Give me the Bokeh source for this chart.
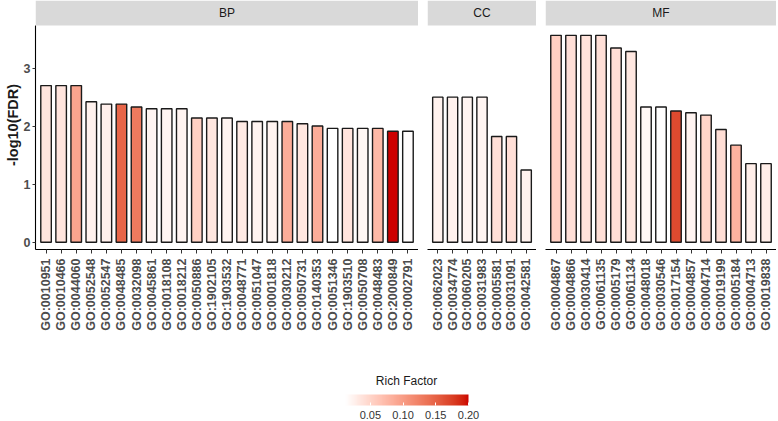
import math
from bokeh.plotting import figure
from bokeh.models import (FactorRange, Range1d, BoxAnnotation, Label, LinearColorMapper,
                          ColorBar, FixedTicker, PrintfTickFormatter, Spacer, ColumnDataSource)
from bokeh.layouts import row, column
from bokeh.transform import transform
from bokeh.embed import file_html
from bokeh.resources import INLINE

# ---------------- data ----------------
bp_terms = ["GO:0010951", "GO:0010466", "GO:0044060", "GO:0052548", "GO:0052547",
            "GO:0048485", "GO:0032098", "GO:0045861", "GO:0018108", "GO:0018212",
            "GO:0050886", "GO:1902105", "GO:1903532", "GO:0048771", "GO:0051047",
            "GO:0001818", "GO:0030212", "GO:0050731", "GO:0140353", "GO:0051346",
            "GO:1903510", "GO:0050708", "GO:0048483", "GO:2000849", "GO:0002791"]
bp_fdr = [2.71, 2.71, 2.71, 2.43, 2.39, 2.39, 2.34, 2.31, 2.31, 2.31,
          2.15, 2.15, 2.15, 2.09, 2.09, 2.09, 2.09, 2.05, 2.01, 1.97,
          1.97, 1.97, 1.97, 1.92, 1.92]
bp_rich = [0.036, 0.036, 0.093, 0.024, 0.026, 0.146, 0.130, 0.021, 0.021, 0.022,
           0.054, 0.034, 0.022, 0.030, 0.022, 0.022, 0.085, 0.034, 0.085, 0.012,
           0.036, 0.020, 0.075, 0.200, 0.014]

cc_terms = ["GO:0062023", "GO:0034774", "GO:0060205", "GO:0031983",
            "GO:0005581", "GO:0031091", "GO:0042581"]
cc_fdr = [2.51, 2.51, 2.51, 2.51, 1.83, 1.83, 1.25]
cc_rich = [0.024, 0.024, 0.021, 0.021, 0.040, 0.040, 0.024]

mf_terms = ["GO:0004867", "GO:0004866", "GO:0030414", "GO:0061135", "GO:0005179",
            "GO:0061134", "GO:0048018", "GO:0030546", "GO:0017154", "GO:0004857",
            "GO:0004714", "GO:0019199", "GO:0005184", "GO:0004713", "GO:0019838"]
mf_fdr = [3.58, 3.58, 3.58, 3.58, 3.36, 3.30, 2.34, 2.34, 2.27, 2.24,
          2.20, 1.95, 1.68, 1.36, 1.36]
mf_rich = [0.055, 0.040, 0.038, 0.040, 0.042, 0.034, 0.018, 0.013, 0.167, 0.022,
           0.050, 0.042, 0.080, 0.028, 0.028]

facet_names = ["BP", "CC", "MF"]
y_ticks = [0, 1, 2, 3]
legend_ticks = [0.05, 0.10, 0.15, 0.20]

# ---------------- colour scale (Lab interpolation, like ggplot) ----------------
def _to_lin(c):
    c = c / 255.0
    return c / 12.92 if c <= 0.04045 else ((c + 0.055) / 1.055) ** 2.4

def _from_lin(c):
    c = 12.92 * c if c <= 0.0031308 else 1.055 * c ** (1 / 2.4) - 0.055
    return max(0, min(255, round(c * 255)))

def hex_to_lab(h):
    r, g, b = (_to_lin(int(h[i:i + 2], 16)) for i in (1, 3, 5))
    x = (0.4124 * r + 0.3576 * g + 0.1805 * b) / 0.95047
    y = (0.2126 * r + 0.7152 * g + 0.0722 * b)
    z = (0.0193 * r + 0.1192 * g + 0.9505 * b) / 1.08883
    f = lambda t: t ** (1 / 3) if t > 0.008856 else 7.787 * t + 16 / 116
    fx, fy, fz = f(x), f(y), f(z)
    return 116 * fy - 16, 500 * (fx - fy), 200 * (fy - fz)

def lab_to_hex(L, a, b):
    fy = (L + 16) / 116
    fx = fy + a / 500
    fz = fy - b / 200
    fi = lambda t: t ** 3 if t ** 3 > 0.008856 else (t - 16 / 116) / 7.787
    x, y, z = fi(fx) * 0.95047, fi(fy), fi(fz) * 1.08883
    r = 3.2406 * x - 1.5372 * y - 0.4986 * z
    g = -0.9689 * x + 1.8758 * y + 0.0415 * z
    bb = 0.0557 * x - 0.2040 * y + 1.0570 * z
    return "#%02x%02x%02x" % tuple(_from_lin(max(0, v)) for v in (r, g, bb))

low_lab = hex_to_lab("#FFFFFF")
high_lab = hex_to_lab("#CD0000")
palette = [lab_to_hex(*[lo + (hi - lo) * i / 255 for lo, hi in zip(low_lab, high_lab)])
           for i in range(256)]

all_rich = bp_rich + cc_rich + mf_rich
mapper = LinearColorMapper(palette=palette, low=min(all_rich), high=max(all_rich))

# ---------------- layout constants ----------------
FONT = "Liberation Sans"
PX_PER_UNIT = 57.8
FRAME_H = 249
STRIP_H = 25
Y_PANEL_TOP = 3.75
Y_LO = Y_PANEL_TOP - (FRAME_H - STRIP_H) / PX_PER_UNIT
Y_TOP = Y_PANEL_TOP + STRIP_H / PX_PER_UNIT
FIG_H = 340
PITCH = 15.2
GAP = 9
LEFT = 35


def facet(name, terms, fdr, rich, with_yaxis):
    n = len(terms)
    frame_w = int(round((n + 0.2) * PITCH))
    src = ColumnDataSource(dict(term=terms, fdr=fdr, rich=rich))
    p = figure(x_range=FactorRange(factors=terms, range_padding=0.2,
                                   range_padding_units="absolute"),
               y_range=Range1d(Y_LO, Y_TOP),
               frame_width=frame_w, frame_height=FRAME_H,
               toolbar_location=None, output_backend="svg",
               y_axis_location="left" if with_yaxis else None,
               min_border_left=LEFT if with_yaxis else 0, min_border_right=0,
               min_border_top=0, min_border_bottom=FIG_H - FRAME_H,
               outline_line_color=None,
               background_fill_color="white", border_fill_color="white")
    p.grid.visible = False

    strip = BoxAnnotation(bottom=Y_PANEL_TOP, fill_color="#D9D9D9", fill_alpha=1.0,
                          line_color=None)
    p.add_layout(strip)
    p.add_layout(Label(x=n / 2, y=(Y_PANEL_TOP + Y_TOP) / 2, text=name,
                       text_align="center", text_baseline="middle",
                       text_font=FONT, text_font_size="12px", text_color="#1A1A1A"))

    p.vbar(x="term", top="fdr", width=0.7, source=src,
           fill_color=transform("rich", mapper), line_color="#1A1A1A", line_width=1.4)

    xa = p.xaxis[0]
    xa.major_label_orientation = math.pi / 2
    xa.major_label_text_font = FONT
    xa.major_label_text_font_style = "bold"
    xa.major_label_text_font_size = "12.5px"
    xa.major_label_text_color = "#4D4D4D"
    xa.major_label_standoff = 5
    xa.axis_line_color = "black"
    xa.axis_line_width = 1.1
    xa.major_tick_line_color = "#333333"
    xa.major_tick_out = 4
    xa.major_tick_in = 0

    if with_yaxis:
        ya = p.yaxis[0]
        ya.ticker = FixedTicker(ticks=y_ticks)
        ya.bounds = (Y_LO, Y_PANEL_TOP)
        ya.axis_label = "-log10(FDR)"
        ya.axis_label_text_font = FONT
        ya.axis_label_text_font_style = "bold"
        ya.axis_label_text_font_size = "14.5px"
        ya.axis_label_text_color = "#1A1A1A"
        ya.axis_label_standoff = 0
        ya.major_label_text_font = FONT
        ya.major_label_text_font_style = "bold"
        ya.major_label_text_font_size = "12.5px"
        ya.major_label_text_color = "#4D4D4D"
        ya.major_label_standoff = 2
        ya.axis_line_color = "black"
        ya.axis_line_width = 1.1
        ya.major_tick_line_color = "#333333"
        ya.major_tick_out = 3
        ya.major_tick_in = 0
        ya.minor_tick_line_color = None
    return p


p_bp = facet(facet_names[0], bp_terms, bp_fdr, bp_rich, True)
p_cc = facet(facet_names[1], cc_terms, cc_fdr, cc_rich, False)
p_mf = facet(facet_names[2], mf_terms, mf_fdr, mf_rich, False)

# ---------------- colour bar ----------------
CB_W, CB_H = 776, 421 - FIG_H
pc = figure(width=CB_W, height=CB_H, x_range=Range1d(0, 1), y_range=Range1d(0, 1),
            toolbar_location=None, output_backend="svg",
            x_axis_location=None, y_axis_location=None, min_border=0,
            outline_line_color=None)
pc.grid.visible = False
cb = ColorBar(color_mapper=mapper, orientation="horizontal", width=123, height=11,
              padding=0, location=(345, 0),
              ticker=FixedTicker(ticks=legend_ticks),
              formatter=PrintfTickFormatter(format="%.2f"),
              major_label_text_font=FONT, major_label_text_font_size="11px",
              major_label_text_color="#333333", label_standoff=5,
              major_tick_line_color="white", major_tick_in=3, major_tick_out=0,
              minor_tick_line_color=None, bar_line_color=None,
              background_fill_color=None, border_line_color=None)
pc.add_layout(cb, "center")
pc.add_layout(Label(x=406, y=41, x_units="screen", y_units="screen", text="Rich Factor",
                    text_align="center", text_baseline="middle", text_font=FONT,
                    text_font_size="12px", text_color="#1A1A1A"))

layout = column(row(p_bp, Spacer(width=GAP, height=FIG_H), p_cc,
                    Spacer(width=GAP, height=FIG_H), p_mf),
                pc)

open("out.html", "w").write(file_html(layout, INLINE))
